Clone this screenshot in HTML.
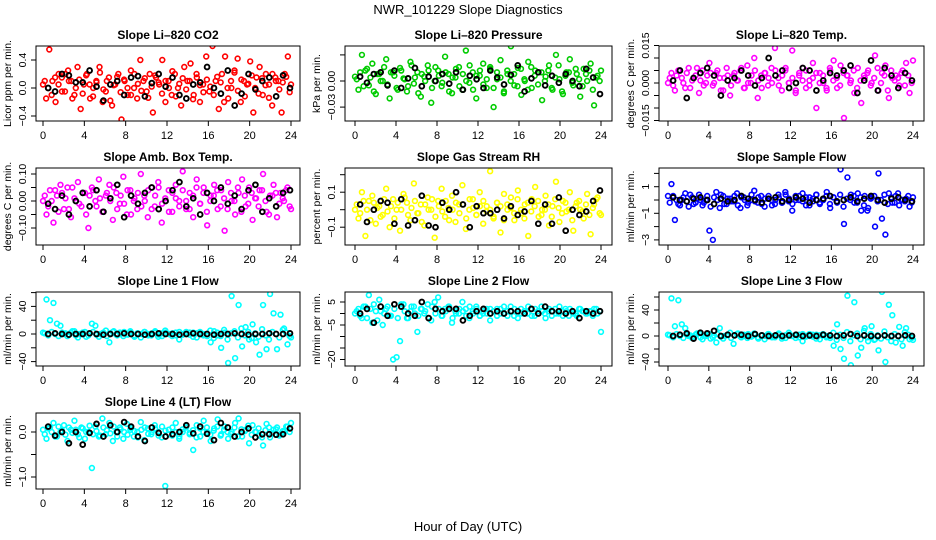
<!DOCTYPE html>
<html><head><meta charset="utf-8"><style>
body{margin:0;background:#fff;}
svg{display:block;font-family:"Liberation Sans",sans-serif;}
</style></head><body>
<svg id="chart" width="936" height="540" viewBox="0 0 936 540" xmlns="http://www.w3.org/2000/svg">
<text x="468" y="14" text-anchor="middle" font-size="13">NWR_101229  Slope Diagnostics</text>
<text x="468" y="531" text-anchor="middle" font-size="13">Hour of Day (UTC)</text>
</svg>
<script>
const xTicks=[0,4,8,12,16,20,24];
const co2Vals=[0.05,-0.15,0.55,0.1,-0.2,0.2,0.15,-0.05,0.25,0.1,-0.1,0.3,-0.3,0.05,0.2,-0.15,0.0,0.1,0.3,-0.2,-0.05,0.15,-0.25,0.05,0.2,-0.45,0.1,-0.1,0.25,0.0,-0.15,0.4,0.1,-0.05,0.2,-0.35,0.15,0.05,0.4,-0.2,0.1,-0.1,0.2,0.0,-0.25,0.3,0.1,0.35,-0.1,0.15,-0.2,0.05,0.45,-0.05,0.6,0.1,-0.3,0.2,0.45,-0.15,0.0,0.25,0.42,-0.2,0.1,0.05,0.38,-0.35,0.15,0.3,-0.1,0.2,0.05,-0.25,0.15,0.1,-0.35,0.2,0.45,0.05];
const co2Vals2=[0.1,0.0,-0.1,0.15,0.05,-0.05,0.2,0.1,-0.15,0.0,0.12,-0.08,0.18,0.05,-0.12,0.08,0.22,-0.02,0.1,-0.18,0.04,0.16,-0.06,0.12,0.0,-0.1,0.2,0.06,-0.04,0.14,-0.14,0.02,0.18,0.08,-0.08,0.1,0.0,0.24,-0.12,0.06,0.14,-0.02,0.1,-0.16,0.2,0.04,-0.06,0.12,0.02,-0.1,0.16,0.08,-0.2,0.0,0.1,0.22,-0.04,0.12,-0.12,0.06,0.18,0.0,-0.08,0.14,0.04,-0.14,0.2,0.1,-0.02,0.08,0.16,-0.06];
const co2Black=[0.0,-0.05,0.2,0.18,0.08,0.08,0.25,0.02,-0.18,0.05,0.1,-0.1,0.15,0.17,-0.12,0.07,0.2,0.02,0.15,-0.1,-0.15,0.05,0.08,0.3,0.0,-0.08,0.25,-0.25,-0.08,0.2,-0.02,0.1,0.15,-0.12,0.18,0.0];
const presVals=[0.005,-0.010,0.030,0.012,-0.005,0.020,-0.015,0.008,0.000,0.025,-0.020,0.010,-0.008,0.015,0.003,-0.012,0.022,-0.003,0.010,-0.018,0.005,0.018,-0.025,0.000,0.012,-0.006,0.028,0.008,-0.014,0.004,0.016,-0.010,0.035,-0.002,0.010,-0.020,0.006,0.020,-0.008,0.014,-0.030,0.002,0.024,-0.012,0.008,0.040,-0.005,0.015,-0.016,0.000,0.022,-0.008,0.012,0.045,-0.022,0.005,0.018,-0.010,0.030,0.002,-0.015,0.010,0.025,-0.005,0.008,-0.018,0.014,0.000,0.020,-0.028,0.006,0.012];
const presVals2=[0.002,0.010,-0.006,0.014,0.004,-0.012,0.008,0.000,0.016,-0.004,0.010,0.006,-0.010,0.012,0.002,-0.006,0.018,0.004,-0.014,0.008,0.000,0.012,-0.008,0.016,0.006,-0.002,0.010,-0.012,0.004,0.014,-0.006,0.008,0.000,0.018,-0.010,0.006,0.012,-0.004,0.002,0.016,-0.008,0.010,0.004,-0.014,0.012,0.000,0.008,-0.006,0.014,0.002,-0.010,0.016,0.006,-0.004,0.010,0.000,0.012,-0.008,0.004,0.018,-0.012,0.006,0.010,-0.002,0.014,0.002,-0.006,0.008,0.012,-0.010,0.004,0.000];
const presBlack=[0.005,-0.002,0.008,0.010,-0.005,0.012,-0.008,0.003,0.015,-0.006,0.005,0.000,0.008,-0.003,0.010,-0.010,0.006,0.002,-0.008,0.012,0.004,-0.004,0.007,0.018,-0.012,0.003,0.010,-0.005,0.006,-0.002,0.008,0.000,-0.006,0.014,0.004,-0.015];
const tempVals=[0,4,-3,5,2,-2,6,1,3,-4,5,0,8,-1,4,2,-3,6,-5,3,1,5,-2,7,0,10,-6,3,4,-1,6,14,2,-3,5,0,13,-4,3,6,-2,1,8,-10,4,0,-3,5,9,-2,7,-14,3,1,-4,6,-8,2,5,0,11,-3,4,7,-6,2,3,-1,5,8,-4,9].map(v=>v/1000);
const tempVals2=[2,-1,3,5,0,4,-2,2,6,1,-1,3,4,0,5,-3,2,3,-1,4,1,6,-2,0,3,5,1,-2,4,2,0,5,-1,3,6,0,2,-3,4,1,5,-1,2,4,0,3,-2,6,1,2,-1,4,3,0,5,-2,1,3,4,-1,2,6,0,3,-3,5,1,2,4,-1,3,0].map(v=>v/1000);
const tempBlack=[1,5,-6,2,4,6,3,-5,1,2,5,3,-1,2,10,3,5,-2,0,6,5,-3,1,4,3,5,7,-4,1,9,-3,6,3,-2,4,1].map(v=>v/1000);
const ambVals=[0,-5,4,-8,2,6,-3,5,-6,1,7,-2,3,-10,5,0,8,-4,2,6,-7,3,-1,9,-5,4,0,-3,10,2,-6,5,-2,7,-8,1,4,-4,6,0,11,-3,3,-6,8,-1,5,-9,2,6,-3,4,-11,7,0,-5,3,8,-2,5,-7,1,4,10,-4,2,6,-6,3,0,5,-3].map(v=>v/100);
const ambVals2=[2,-2,0,4,-4,3,1,-3,5,0,-1,3,-5,2,4,-2,1,-4,3,0,5,-3,2,-1,4,-5,1,3,-2,0,4,-3,2,5,-1,0,-4,3,1,-2,4,0,-3,2,5,-1,3,-4,0,2,4,-2,1,-3,3,0,5,-4,2,-1,3,1,-2,4,0,-5,2,3,-1,1,4,-2].map(v=>v/100);
const ambBlack=[-1,-3,2,-5,0,3,-2,4,-4,1,6,-6,2,-1,3,5,-3,0,4,7,-2,1,-5,3,0,5,-1,2,-3,4,6,-4,1,-2,3,4].map(v=>v/100);
const rhVals=[0,-5,10,-15,5,8,-8,2,-3,12,-10,6,0,-12,9,4,-6,15,-2,3,-9,7,0,-16,5,12,-4,1,8,-7,3,14,-11,0,6,-3,10,-8,2,22,-5,4,-13,9,0,7,-6,11,-2,3,-15,6,13,-4,0,8,-9,2,16,-7,5,-1,10,-12,4,0,-5,9,-14,3,7,-3].map(v=>v/100);
const rhVals2=[3,-2,5,0,-6,4,1,-4,6,-1,2,-5,4,0,7,-3,1,5,-2,-7,3,0,6,-4,2,-1,5,-6,0,4,-2,3,-5,6,1,-3,2,5,-1,0,-4,4,2,-6,3,1,-2,6,0,-5,4,-1,2,5,-3,0,3,-4,6,1,-2,4,0,-6,2,5,-1,3,-3,1,6,-2].map(v=>v/100);
const rhBlack=[3,-7,0,5,4,-8,6,-9,-6,8,-9,-10,4,0,10,3,-10,2,-2,-2,0,-5,2,-3,-1,5,-8,3,-8,7,-12,0,-3,-1,5,11].map(v=>v/100);
const sampleVals=[3,12,-15,-3,0,5,-5,2,-2,4,-4,0,-23,-30,6,-6,3,-3,1,-1,5,-6,2,-4,0,7,-2,3,-5,1,0,-3,4,-2,6,-1,-8,3,0,5,-4,2,-1,4,-3,0,6,-6,2,-2,23,-18,17,4,-2,5,-8,3,-6,2,-20,20,-14,-26,5,-2,3,-4,0,1,-5,2].map(v=>v/10);
const sampleVals2=[-2,3,0,-4,2,-1,4,-3,1,0,-2,3,-5,2,0,4,-3,1,-1,3,-4,2,0,-2,4,-1,2,-3,1,3,-4,0,2,-2,4,1,-3,0,3,-1,2,-4,1,4,-2,0,3,-3,2,-1,4,-5,1,0,3,-2,2,-4,-8,1,3,-1,0,4,-3,2,-2,5,0,-1,3,-2].map(v=>v/10);
const sampleBlack=[2,0,-1,1,2,0,-3,1,-1,0,3,1,0,-2,1,2,-1,0,2,1,-2,0,1,3,-1,0,2,-1,1,3,0,-2,1,2,0,-1].map(v=>v/10);
const line1Vals=[2,50,20,45,15,12,0,-3,2,4,-5,0,3,-2,15,12,-4,1,5,-12,3,-1,2,-3,0,4,-2,1,-5,3,0,-2,2,-4,1,5,0,-3,2,-8,0,3,-1,2,-5,1,0,-3,-12,4,-2,-20,2,-42,55,-35,42,-18,10,-8,14,-12,-30,42,-22,58,30,-22,28,8,-15,-5];
const line1Vals2=[1,-2,3,0,-3,2,1,-1,4,-2,0,2,-4,1,3,-1,0,2,-3,1,4,-2,0,3,-1,2,-4,1,0,3,-2,1,4,-1,-3,2,0,1,-2,3,-1,0,2,-4,1,3,-2,0,5,-6,2,-3,6,-8,1,4,-5,8,-2,3,-6,1,-4,7,-2,-8,3,0,-5,6,2,-3];
const line1Black=[0,1,0,-1,0,0,1,0,-1,0,0,1,0,0,-1,0,1,0,0,-1,0,1,0,0,-1,0,0,1,0,-1,0,0,1,0,0,1];
const line2Vals=[0,2,-2,3,8,-4,1,6,-5,2,-1,-20,-19,-12,4,-2,1,3,-8,2,0,4,-3,5,7,-1,2,3,-4,1,0,5,2,-2,1,3,-1,0,2,-3,1,2,0,3,-1,1,2,-2,0,1,3,-1,2,0,1,-2,2,1,0,3,-1,1,2,0,-1,2,1,0,1,2,0,-8];
const line2Vals2=[1,-1,3,-2,2,4,-3,1,0,3,-1,2,-2,4,1,-2,3,0,-1,2,1,-2,3,0,2,-1,1,3,-2,0,2,1,-1,3,0,2,-1,1,0,2,1,-1,2,0,1,3,-1,0,2,1,0,2,-1,1,3,0,1,-1,2,0,1,2,-1,1,0,2,1,0,1,-1,2,1];
const line2Black=[0,2,-4,3,-1,4,3,0,-1,5,-2,2,1,2,2,-3,-1,1,2,0,1,0,1,1,0,2,0,3,1,1,0,1,-2,1,0,1];
const line3Vals=[2,58,15,55,18,12,0,-3,2,4,-5,0,3,-2,-10,12,-4,1,5,-12,3,-1,2,-3,0,4,-2,1,-5,3,0,-2,2,-4,1,5,0,-3,2,-8,0,3,-1,2,-5,1,0,-3,-15,18,-20,-35,62,-45,52,-30,-18,12,-8,15,-5,-22,68,-40,48,32,-10,14,-15,12,-5,-6];
const line3Vals2=[1,-2,3,0,-3,2,1,-1,4,-2,0,2,-4,1,3,-1,0,2,-3,1,4,-2,0,3,-1,2,-4,1,0,3,-2,1,4,-1,-3,2,0,1,-2,3,-1,0,2,-4,1,3,-2,0,5,-6,2,-3,6,-8,1,4,-5,8,-2,3,-6,1,-4,7,-2,-8,3,0,-5,6,2,-3];
const line3Black=[0,2,4,-4,5,4,8,0,2,1,2,0,3,1,0,1,0,1,2,0,1,0,2,1,0,1,3,0,1,0,0,1,0,0,1,0];
const line4Vals=[5,-15,10,20,-10,0,15,-20,5,25,-5,10,-15,0,-80,12,-10,30,-5,20,-20,0,10,-15,18,5,-10,0,22,-18,8,-5,15,0,-12,-120,5,-8,20,-15,0,10,-5,-40,15,-10,25,0,-20,8,28,-5,12,-15,0,20,30,-10,5,-25,15,0,-8,-30,18,-12,5,10,-5,0,12,20].map(v=>v/100);
const line4Vals2=[-5,8,0,-10,12,3,-6,10,-2,5,-12,8,0,14,-5,2,-8,10,4,-3,12,-10,6,0,-6,9,2,-12,5,10,-4,0,8,-8,12,3,-5,10,0,-10,6,14,-2,4,-12,8,0,10,-6,3,12,-8,5,0,-4,10,-10,6,2,14,-6,0,8,-12,4,10,-3,6,-8,2,12,0].map(v=>v/100);
const line4Black=[12,-8,0,-25,0,-28,-2,18,-10,15,0,22,12,-10,-20,10,-2,-10,-5,0,15,-3,12,-4,-18,20,10,-10,0,8,-12,-5,-5,-6,-5,8].map(v=>v/100);

const cols=[{l:36,r:300,x0:43,x24:291},{l:345,r:612,x0:355,x24:601},{l:659,r:924,x0:668,x24:913}];
const rows=[[46,121],[168,245],[292,366],[413,489]];
const panels=[
 {name:'co2',title:'Slope Li\u2013820 CO2',ylab:'Licor ppm per min.',c:0,r:0,col:'#ff0000',vals:co2Vals,vals2:co2Vals2,blk:co2Black,z:88,s:70,ticks:[-0.4,0,0.4],labs:['\u22120.4','0.0','0.4']},
 {name:'pressure',title:'Slope Li\u2013820 Pressure',ylab:'kPa per min.',c:1,r:0,col:'#00cc00',vals:presVals,vals2:presVals2,blk:presBlack,z:81,s:870,ticks:[-0.03,0,0.03],labs:['\u22120.03','0.00','']},
 {name:'li820-temp',title:'Slope Li\u2013820 Temp.',ylab:'degrees C per min.',c:2,r:0,col:'#ff00ff',vals:tempVals,vals2:tempVals2,blk:tempBlack,z:83,s:2500,ticks:[-0.015,-0.01,-0.005,0,0.005,0.01,0.015],labs:['\u22120.015','','','0.000','','','0.015']},
 {name:'amb-box-temp',title:'Slope Amb. Box Temp.',ylab:'degrees C per min.',c:0,r:1,col:'#ff00ff',vals:ambVals,vals2:ambVals2,blk:ambBlack,z:201,s:270,ticks:[-0.1,-0.05,0,0.05,0.1],labs:['\u22120.10','','0.00','','0.10']},
 {name:'gas-stream-rh',title:'Slope Gas Stream RH',ylab:'percent per min.',c:1,r:1,col:'#ffff00',vals:rhVals,vals2:rhVals2,blk:rhBlack,z:209.7,s:175,ticks:[-0.1,0,0.1,0.2],labs:['\u22120.1','','0.1','']},
 {name:'sample-flow',title:'Slope Sample Flow',ylab:'ml/min per min.',c:2,r:1,col:'#0000ff',vals:sampleVals,vals2:sampleVals2,blk:sampleBlack,z:200,s:13.3,ticks:[-3,-2,-1,0,1,2],labs:['\u22123','','\u22121','','1','']},
 {name:'line1-flow',title:'Slope Line 1 Flow',ylab:'ml/min per min.',c:0,r:2,col:'#00ffff',vals:line1Vals,vals2:line1Vals2,blk:line1Black,z:334,s:0.69,ticks:[-40,-20,0,20,40,60],labs:['\u221240','','0','','40','']},
 {name:'line2-flow',title:'Slope Line 2 Flow',ylab:'ml/min per min.',c:1,r:2,col:'#00ffff',vals:line2Vals,vals2:line2Vals2,blk:line2Black,z:313.5,s:2.3,ticks:[-20,-15,-10,-5,0,5],labs:['\u221220','','','\u22125','','5']},
 {name:'line3-flow',title:'Slope Line 3 Flow',ylab:'ml/min per min.',c:2,r:2,col:'#00ffff',vals:line3Vals,vals2:line3Vals2,blk:line3Black,z:336,s:0.65,ticks:[-40,-20,0,20,40,60],labs:['\u221240','','0','','40','']},
 {name:'line4-flow',title:'Slope Line 4 (LT) Flow',ylab:'ml/min per min.',c:0,r:3,col:'#00ffff',vals:line4Vals,vals2:line4Vals2,blk:line4Black,z:432,s:45,ticks:[-1,-0.5,0,0.5],labs:['\u22121.0','','0.0','']}
];
const svg=document.getElementById('chart');
const NS='http://www.w3.org/2000/svg';
function mk(tag,attrs,parent){const e=document.createElementNS(NS,tag);for(const k in attrs)e.setAttribute(k,attrs[k]);parent.appendChild(e);return e;}
panels.forEach(p=>{
  const C=cols[p.c],R=rows[p.r];
  const g=mk('g',{},svg);
  
  
  const xs=h=>C.x0+(C.x24-C.x0)*h/24;
  const ys=v=>p.z-v*p.s;
  const t=mk('text',{x:(C.l+C.r)/2,y:R[0]-7,'text-anchor':'middle','font-size':'12','font-weight':'bold'},g);
  t.textContent=p.title;
  
  
  const clip=mk('clipPath',{id:'cp-'+p.name},g);
  mk('rect',{x:C.l,y:R[0],width:C.r-C.l,height:R[1]-R[0]},clip);
  const pts=mk('g',{'clip-path':'url(#cp-'+p.name+')',fill:'none','stroke-width':'1.6'},g);
  p.vals.forEach((v,i)=>{
    const c=mk('circle',{cx:xs(i*24/(p.vals.length-1)),cy:ys(v),r:2.4,stroke:p.col},pts);
    
    
  });
  p.vals2.forEach((v,i)=>{
    const c=mk('circle',{cx:xs(0.17+i*23.7/(p.vals2.length-1)),cy:ys(v),r:2.4,stroke:p.col},pts);
    
    
  });
  p.blk.forEach((v,i)=>{
    const c=mk('circle',{cx:xs(0.5+i*23.4/(p.blk.length-1)),cy:ys(v),r:2.4,stroke:'#000','stroke-width':'1.9'},pts);
    
    
  });
  const box=mk('rect',{x:C.l,y:R[0],width:C.r-C.l,height:R[1]-R[0],fill:'none',stroke:'#000','stroke-width':'1'},g);
  
  
  xTicks.forEach(h=>{
    mk('line',{x1:xs(h),x2:xs(h),y1:R[1],y2:R[1]+5,stroke:'#000'},g);
    const tl=mk('text',{x:xs(h),y:R[1]+18,'text-anchor':'middle','font-size':'11'},g);
    tl.textContent=h;
    
    
  });
  p.ticks.forEach((v,i)=>{
    const y=ys(v);
    if(y<R[0]-2||y>R[1]+2)return;
    mk('line',{x1:C.l-5,x2:C.l,y1:y,y2:y,stroke:'#000'},g);
    if(p.labs[i]){
      const lx=C.l-10;
      const yl=mk('text',{x:lx,y:y,'text-anchor':'middle','font-size':'10.5',transform:'rotate(-90 '+lx+' '+y+')'},g);
      yl.textContent=p.labs[i];
      
      
    }
  });
  const ym=(R[0]+R[1])/2,xl=C.l-25;
  const yt=mk('text',{x:xl,y:ym,'text-anchor':'middle','font-size':'10.5',transform:'rotate(-90 '+xl+' '+ym+')'},g);
  yt.textContent=p.ylab;
  
  
});
</script>
</body></html>
